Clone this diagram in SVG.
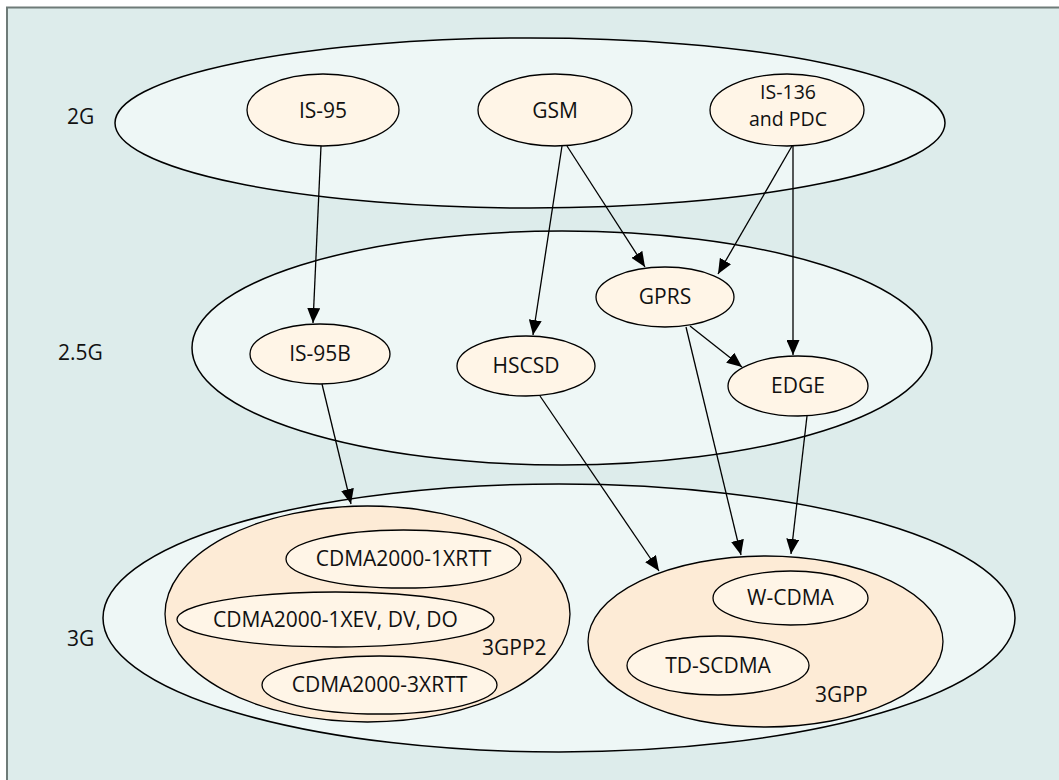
<svg xmlns="http://www.w3.org/2000/svg" width="1059" height="780" viewBox="0 0 1059 780">
<style>
.bg{fill:#ddeceb}
.grp{fill:#eef7f6;stroke:#000;stroke-width:1.5}
.cons{fill:#fdebd6;stroke:#000;stroke-width:1.3}
.node{fill:#fff5e7;stroke:#000;stroke-width:1.3}
text{font-family:"Open Sans","Liberation Sans",Arial,sans-serif;font-size:21px;fill:#111}
.c{text-anchor:middle}
.two{font-size:19.5px}
.edge{stroke:#000;stroke-width:1.3;fill:none;marker-end:url(#ah)}
</style>
<defs>
<marker id="ah" markerWidth="15" markerHeight="13" refX="15" refY="6.5" orient="auto" markerUnits="userSpaceOnUse" viewBox="0 0 15 13">
<path d="M0,0 L15,6.5 L0,13 Z" fill="#000"/>
</marker>
</defs>
<rect x="6" y="7" width="1053" height="773" class="bg"/>
<path d="M7,780 V7.5 H1059" fill="none" stroke="#6e7b78" stroke-width="2"/>

<g id="layer-2g">
<ellipse cx="530" cy="123" rx="415" ry="85" class="grp"/>
<text x="67" y="124">2G</text>
</g>
<g id="layer-25g">
<ellipse cx="562" cy="348" rx="370" ry="117" class="grp"/>
<text x="58" y="360">2.5G</text>
</g>
<g id="layer-3g">
<ellipse cx="559" cy="618" rx="456" ry="134" class="grp"/>
<text x="67" y="646">3G</text>
</g>

<g id="n-is95"><ellipse cx="323" cy="110" rx="76" ry="36" class="node"/><text x="323" y="118" class="c">IS-95</text></g>
<g id="n-gsm"><ellipse cx="555" cy="110" rx="77" ry="36" class="node"/><text x="555" y="118" class="c">GSM</text></g>
<g id="n-is136"><ellipse cx="787" cy="110" rx="77" ry="36" class="node"/><text x="788" y="98.5" class="c two">IS-136</text><text x="788" y="125.5" class="c two">and PDC</text></g>

<g id="n-is95b"><ellipse cx="320" cy="354" rx="70" ry="30" class="node"/><text x="320" y="361" class="c">IS-95B</text></g>
<g id="n-hscsd"><ellipse cx="526" cy="366" rx="69" ry="30" class="node"/><text x="526" y="373" class="c">HSCSD</text></g>
<g id="n-gprs"><ellipse cx="665" cy="297" rx="69" ry="30" class="node"/><text x="665" y="304" class="c">GPRS</text></g>
<g id="n-edge"><ellipse cx="798" cy="386" rx="70" ry="30" class="node"/><text x="798" y="393" class="c">EDGE</text></g>

<g id="n-3gpp2">
<ellipse cx="367.5" cy="614" rx="202.5" ry="108" class="cons"/>
<text x="482" y="655">3GPP2</text>
<ellipse cx="403.5" cy="559" rx="117.5" ry="29" class="node"/><text x="403.5" y="566" class="c">CDMA2000-1XRTT</text>
<ellipse cx="335.5" cy="619.5" rx="158.5" ry="27.5" class="node"/><text x="335.5" y="626.5" class="c">CDMA2000-1XEV, DV, DO</text>
<ellipse cx="379.5" cy="685" rx="117.5" ry="29" class="node"/><text x="379.5" y="692" class="c">CDMA2000-3XRTT</text>
</g>
<g id="n-3gpp">
<ellipse cx="765.5" cy="641.5" rx="177.5" ry="85.5" class="cons"/>
<text x="815" y="702">3GPP</text>
<ellipse cx="790.5" cy="598" rx="77.5" ry="27" class="node"/><text x="790.5" y="605" class="c">W-CDMA</text>
<ellipse cx="718" cy="665.5" rx="91" ry="29.5" class="node"/><text x="718" y="672.5" class="c">TD-SCDMA</text>
</g>

<g id="connectors">
<line x1="321" y1="146" x2="313" y2="323" class="edge"/>
<line x1="562" y1="146" x2="533" y2="335" class="edge"/>
<line x1="567" y1="146" x2="645" y2="267" class="edge"/>
<line x1="792" y1="146" x2="718" y2="274" class="edge"/>
<line x1="793" y1="146" x2="793" y2="355" class="edge"/>
<line x1="690" y1="326" x2="742" y2="367" class="edge"/>
<line x1="686" y1="327" x2="741" y2="555" class="edge"/>
<line x1="807" y1="416" x2="791" y2="554" class="edge"/>
<line x1="540" y1="396" x2="659" y2="571" class="edge"/>
<line x1="322" y1="384" x2="351" y2="504" class="edge"/>
</g>
</svg>
